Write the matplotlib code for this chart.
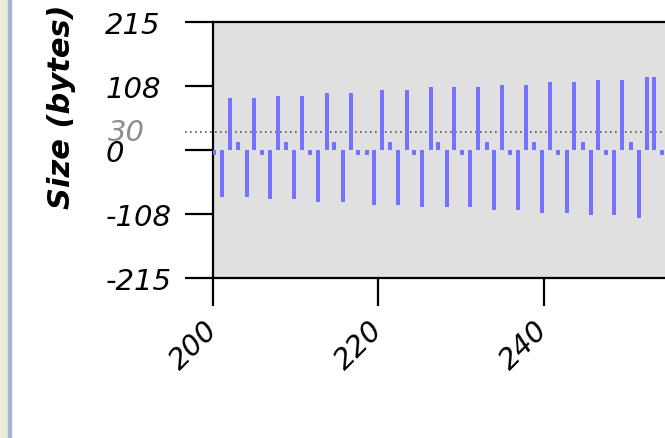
import matplotlib
matplotlib.use("Agg")
import matplotlib.pyplot as plt
from matplotlib.patches import Rectangle

# message times (x) and signed sizes in bytes (y)
times = [200.12, 201.12, 202.06, 203.06, 204.07, 204.96, 205.96, 206.89, 207.90, 208.83,
         209.83, 210.80, 211.73, 212.73, 213.75, 214.67, 215.68, 216.65, 217.57, 218.59,
         219.50, 220.47, 221.40, 222.41, 223.42, 224.34, 225.31, 226.32, 227.24, 228.26,
         229.14, 230.15, 231.08, 232.08, 233.10, 234.01, 234.98, 235.91, 236.92, 237.85,
         238.85, 239.82, 240.75, 241.75, 242.77, 243.69, 244.70, 245.67, 246.59, 247.52,
         248.52, 249.49, 250.51, 251.51, 252.44, 253.36, 254.33]
sizes = [-9, -79, 87, 14, -79, 87, -9, -82, 91, 14,
         -82, 91, -9, -88, 96, 14, -88, 96, -9, -9,
         -92, 100, 14, -92, 100, -9, -96, 105, 14, -96,
         105, -9, -96, 105, 14, -101, 109, -9, -101, 109,
         14, -105, 114, -9, -105, 114, 14, -110, 118, -9,
         -110, 118, 14, -114, 122, 122, -9]

y_ticks = [-215, -108, 0, 108, 215]
x_ticks = [200, 220, 240]
threshold = 30

W, H = 665, 439
fig = plt.figure(figsize=(W / 100, H / 100), dpi=100)
fig.patch.set_facecolor("white")

# window border strip on the left
fig.patches.append(Rectangle((0, 0), 8 / W, 1, transform=fig.transFigure,
                             color="#ECE9D8", zorder=0))
fig.patches.append(Rectangle((8 / W, 0), 3 / W, 1, transform=fig.transFigure,
                             color="#A3B8D6", zorder=0))

left, top, bottom = 213, 23, 279
ax = fig.add_axes([left / W, (H - bottom) / H, (W - left) / W, (bottom - top) / H])
ax.set_facecolor("#E0E0E0")

ax.bar(times, sizes, width=0.5, color="#7373FF", linewidth=0, zorder=3)

# threshold line, running out past the y axis
ax.plot([-28 / (W - left), 1], [threshold, threshold], transform=ax.get_yaxis_transform(),
        color="#555555", lw=1.2, linestyle=(0, (1, 2)), clip_on=False, zorder=2)

ax.set_xlim(200, 200 + (W - left) / 8.27)
ax.set_ylim(-215, 215)

for side in ["left", "top", "bottom"]:
    ax.spines[side].set_linewidth(1.6)
    ax.spines[side].set_color("black")
ax.spines["right"].set_visible(False)

ax.set_yticks(y_ticks)
ax.set_yticklabels([str(v) for v in y_ticks])
ax.set_xticks(x_ticks)
ax.set_xticklabels([str(v) for v in x_ticks])

ax.tick_params(axis="both", direction="out", length=20, width=1.6, color="black")
ax.tick_params(axis="y", pad=57.6)
ax.tick_params(axis="x", pad=14)

for lab in ax.get_yticklabels():
    lab.set_ha("left")
    lab.set_fontsize(21)
    lab.set_fontstyle("italic")
for lab in ax.get_xticklabels():
    lab.set_fontsize(21)
    lab.set_fontstyle("italic")
    lab.set_rotation(45)
    lab.set_ha("right")
    lab.set_va("center")
    lab.set_rotation_mode("anchor")

fig.text(108 / W, 1 - 133 / H, str(threshold), color="#8C8C8C", fontsize=21,
         fontstyle="italic", ha="left", va="center")

fig.text(61 / W, 1 - 107 / H, "Size (bytes)", rotation=90, fontsize=22,
         fontweight="bold", fontstyle="italic", ha="center", va="center")

fig.savefig("out.png", dpi=100)
